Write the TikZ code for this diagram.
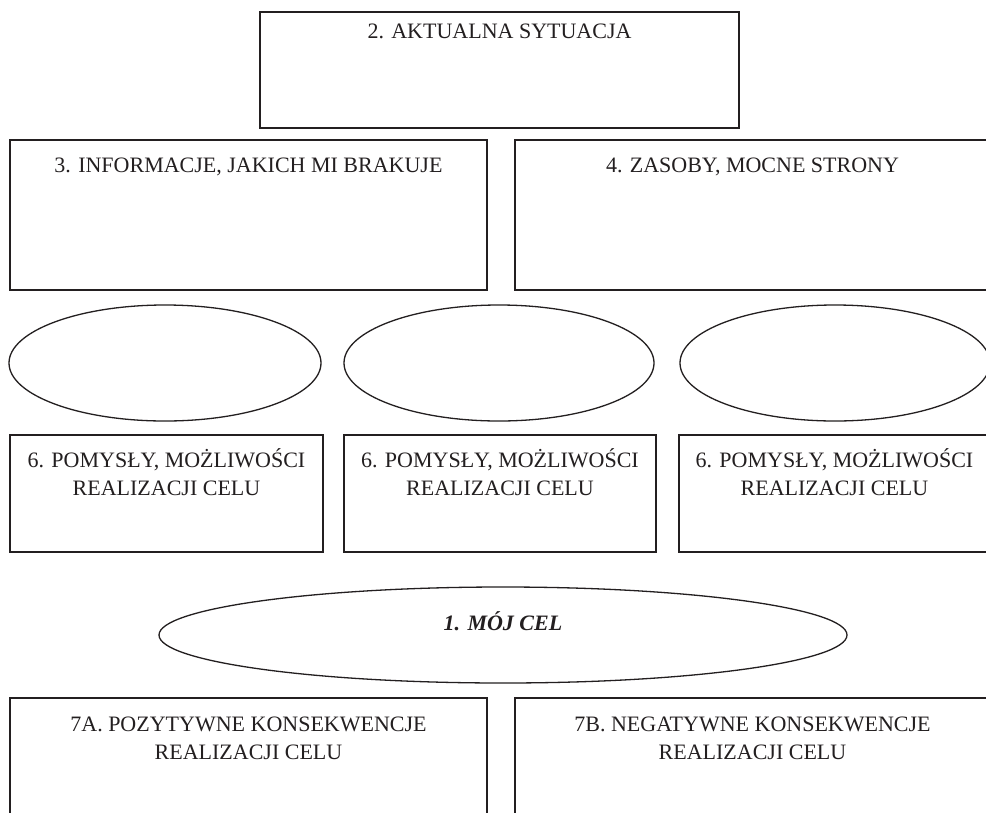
\documentclass[tikz,border=0pt]{standalone}
\usepackage{fontspec}
\setmainfont{Liberation Serif}
\usetikzlibrary{shapes.geometric}
\definecolor{ink}{HTML}{231F20}
\tikzset{
  box/.style={draw=ink, line width=1.8pt, rectangle, inner sep=0pt},
  oval/.style={draw=ink, line width=1.3pt, ellipse, inner sep=0pt},
  title/.style={text=ink, font=\fontsize{22}{28}\selectfont, anchor=base, inner sep=0pt, align=center}
}
\begin{document}
\begin{tikzpicture}[x=1pt, y=-1pt]
  \clip (0,0) rectangle (986,812);
  \fill[white] (0,0) rectangle (986,812);

  % top box
  \node[box, minimum width=479pt, minimum height=116pt] (sit) at (499.5,70) {};
  \node[title] (sit-t) at (499.5,38) {2. AKTUALNA SYTUACJA};

  % second row
  \node[box, minimum width=477pt, minimum height=150pt] (info) at (248.5,215) {};
  \node[title] (info-t) at (248.5,172) {3. INFORMACJE, JAKICH MI BRAKUJE};
  \node[box, minimum width=475pt, minimum height=150pt] (res) at (752.5,215) {};
  \node[title] (res-t) at (752.5,172) {4. ZASOBY, MOCNE STRONY};

  % empty ovals
  \node[oval, minimum width=312pt, minimum height=116pt] (o1) at (165,363) {};
  \node[oval, minimum width=310pt, minimum height=116pt] (o2) at (499,363) {};
  \node[oval, minimum width=310pt, minimum height=116pt] (o3) at (835,363) {};

  % ideas
  \node[box, minimum width=313pt, minimum height=117pt] (i1) at (166.5,493.5) {};
  \node[box, minimum width=312pt, minimum height=117pt] (i2) at (500,493.5) {};
  \node[box, minimum width=311pt, minimum height=117pt] (i3) at (834.5,493.5) {};
  \node[title] (i1-a) at (166.5,467) {6. POMYSŁY, MOŻLIWOŚCI};
  \node[title] (i1-b) at (166.5,495) {REALIZACJI CELU};
  \node[title] (i2-a) at (500,467) {6. POMYSŁY, MOŻLIWOŚCI};
  \node[title] (i2-b) at (500,495) {REALIZACJI CELU};
  \node[title] (i3-a) at (834.5,467) {6. POMYSŁY, MOŻLIWOŚCI};
  \node[title] (i3-b) at (834.5,495) {REALIZACJI CELU};

  % goal
  \node[oval, minimum width=688pt, minimum height=96pt] (goal) at (503,635) {};
  \node[title, font=\fontsize{22}{28}\selectfont\bfseries\itshape] (goal-t) at (503,630) {1. MÓJ CEL};

  % consequences
  \node[box, minimum width=477pt, minimum height=134pt] (pos) at (248.5,765) {};
  \node[title] (pos-a) at (248.5,731) {7A. POZYTYWNE KONSEKWENCJE};
  \node[title] (pos-b) at (248.5,759) {REALIZACJI CELU};
  \node[box, minimum width=475pt, minimum height=134pt] (neg) at (752.5,765) {};
  \node[title] (neg-a) at (752.5,731) {7B. NEGATYWNE KONSEKWENCJE};
  \node[title] (neg-b) at (752.5,759) {REALIZACJI CELU};
\end{tikzpicture}
\end{document}
